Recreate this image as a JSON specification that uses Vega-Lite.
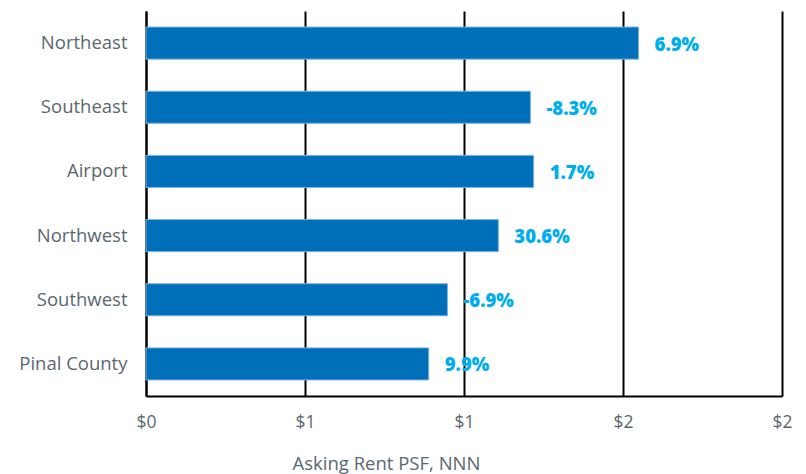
{
  "$schema": "https://vega.github.io/schema/vega-lite/v6.json",
  "autosize": "none",
  "width": 636,
  "height": 385,
  "padding": {"left": 146, "top": 11, "right": 24, "bottom": 78},
  "background": "white",
  "config": {
    "font": "Open Sans",
    "view": {"stroke": null}
  },
  "data": {
    "values": [
      {"region": "Northeast", "rent": 1.549, "label": "6.9%"},
      {"region": "Southeast", "rent": 1.209, "label": "-8.3%"},
      {"region": "Airport", "rent": 1.219, "label": "1.7%"},
      {"region": "Northwest", "rent": 1.108, "label": "30.6%"},
      {"region": "Southwest", "rent": 0.948, "label": "-6.9%"},
      {"region": "Pinal County", "rent": 0.889, "label": "9.9%"}
    ]
  },
  "encoding": {
    "y": {
      "field": "region",
      "type": "nominal",
      "sort": null,
      "scale": {"paddingInner": 0.5, "paddingOuter": 0.25},
      "axis": {
        "title": null,
        "domain": true,
        "domainColor": "black",
        "domainWidth": 2,
        "ticks": false,
        "labelFont": "Open Sans",
        "labelFontSize": 18.5,
        "labelColor": "#5b6770",
        "labelPadding": 19
      }
    },
    "x": {
      "field": "rent",
      "type": "quantitative",
      "scale": {"domain": [0, 2], "nice": false},
      "axis": {
        "title": "Asking Rent PSF, NNN",
        "titleFont": "Open Sans",
        "titleFontSize": 18.5,
        "titleFontWeight": "normal",
        "titleColor": "#5b6770",
        "titleX": 240,
        "titleAlign": "center",
        "titlePadding": 24,
        "values": [0, 0.5, 1, 1.5, 2],
        "format": "$.0f",
        "labelFont": "Open Sans",
        "labelFontSize": 17.5,
        "labelColor": "#5b6770",
        "labelPadding": 17,
        "labelFlush": false,
        "ticks": false,
        "domainColor": "black",
        "domainWidth": 2,
        "grid": true,
        "gridColor": "black",
        "gridWidth": 2
      }
    }
  },
  "layer": [
    {
      "mark": {"type": "bar", "color": "#006fb9", "stroke": "#7ab4e2", "strokeWidth": 1}
    },
    {
      "mark": {"type": "text", "align": "left", "dx": 16, "dy": 1.5, "fontSize": 18.5, "fontWeight": 800, "color": "#00aeef", "font": "Open Sans"},
      "encoding": {"text": {"field": "label"}}
    }
  ]
}
